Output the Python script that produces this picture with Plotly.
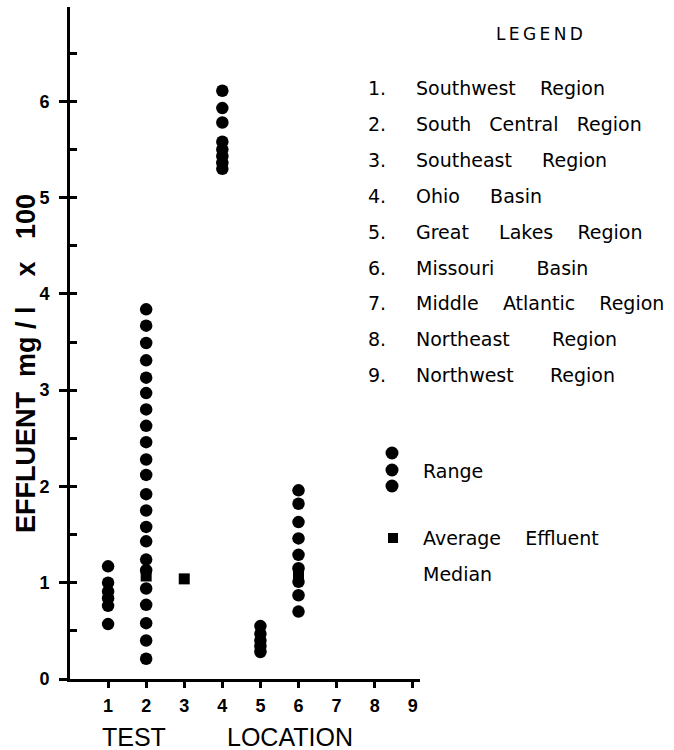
import plotly.graph_objects as go

# ---------------- data ----------------
x_ticks = [1, 2, 3, 4, 5, 6, 7, 8, 9]
y_ticks = [0, 1, 2, 3, 4, 5, 6]

loc1_range = [1.17, 1.00, 0.91, 0.84, 0.76, 0.57]
loc2_range = [3.84, 3.67, 3.49, 3.31, 3.13, 2.97, 2.80, 2.63, 2.46, 2.28, 2.12,
              1.92, 1.75, 1.58, 1.43, 1.24, 1.13, 0.94, 0.77, 0.58, 0.40, 0.21]
loc4_range = [6.11, 5.93, 5.78, 5.58, 5.50, 5.43, 5.36, 5.30]
loc5_range = [0.55, 0.47, 0.40, 0.34, 0.28]
loc6_range = [1.96, 1.82, 1.63, 1.46, 1.29, 1.15, 1.01, 0.87, 0.70]

median_locs = [2, 3, 6]
median_vals = [1.07, 1.04, 1.08]

legend_numbers = ["1.", "2.", "3.", "4.", "5.", "6.", "7.", "8.", "9."]
legend_names = ["Southwest Region", "South Central Region", "Southeast Region",
                "Ohio Basin", "Great Lakes Region", "Missouri Basin",
                "Middle Atlantic Region", "Northeast Region", "Northwest Region"]

# ---------------- layout helpers ----------------
W, H = 674, 750
L, R, T, B = 70, 420, 7, 679     # plot area in pixels


def px(xp):
    return (xp - L) / (R - L)


def py(yp):
    return (B - yp) / (B - T)


NB = "\u00a0"
word_gaps = [[4], [3, 3], [5], [5], [5, 4], [7], [4, 4], [7], [6]]


def spaced(name, gaps):
    words = name.split(" ")
    out = words[0]
    for w, g in zip(words[1:], gaps):
        out += NB * g + w
    return out


fig = go.Figure()

range_sets = [(1, loc1_range), (2, loc2_range), (4, loc4_range),
              (5, loc5_range), (6, loc6_range)]
for loc, vals in range_sets:
    fig.add_trace(go.Scatter(
        x=[loc] * len(vals), y=vals, mode="markers",
        marker=dict(symbol="circle", size=12.5, color="black"),
        showlegend=False, hoverinfo="skip"))

fig.add_trace(go.Scatter(
    x=median_locs, y=median_vals, mode="markers",
    marker=dict(symbol="square", size=11, color="black"),
    showlegend=False, hoverinfo="skip"))

# invisible trace on secondary y for inner ticks
fig.add_trace(go.Scatter(x=[None], y=[None], yaxis="y2", showlegend=False))

tick_font = dict(family="Liberation Sans", size=18, color="black", weight="bold")

fig.update_layout(
    width=W, height=H,
    margin=dict(l=L, r=W - R, t=T, b=H - B),
    paper_bgcolor="white", plot_bgcolor="white",
    showlegend=False,
    xaxis=dict(range=[0, 9.19], showgrid=False, zeroline=False,
               showline=True, linewidth=3, linecolor="black",
               tickvals=x_ticks, ticks="outside", ticklen=6, tickwidth=2.5,
               tickcolor="black", tickfont=tick_font, ticklabelstandoff=2),
    yaxis=dict(range=[0, 6.98], showgrid=False, zeroline=False,
               showline=True, linewidth=3, linecolor="black",
               tickvals=y_ticks, ticks="outside", ticklen=8, tickwidth=3,
               tickcolor="black", tickfont=tick_font, ticklabelstandoff=6),
    yaxis2=dict(range=[0, 6.98], overlaying="y", side="left",
                showgrid=False, zeroline=False, showline=False,
                tickvals=[v / 2 for v in range(0, 14)], ticks="inside",
                ticklen=7, tickwidth=2.5, tickcolor="black",
                showticklabels=False),
)

ann = []
# axis titles
ann.append(dict(text="EFFLUENT" + NB * 2 + "mg / l" + NB * 4 + "x" + NB * 3 + "100",
                x=px(26), y=py(364), xref="paper", yref="paper",
                textangle=-90, showarrow=False, xanchor="center", yanchor="middle",
                font=dict(family="Liberation Sans", size=27, color="black", weight="bold")))
ann.append(dict(text="TEST", x=px(134), y=py(737), xref="paper", yref="paper",
                showarrow=False, xanchor="center", yanchor="middle",
                font=dict(family="Liberation Sans", size=25, color="black")))
ann.append(dict(text="LOCATION", x=px(290), y=py(737), xref="paper", yref="paper",
                showarrow=False, xanchor="center", yanchor="middle",
                font=dict(family="Liberation Sans", size=25, color="black")))

# legend block
leg_font = dict(family="DejaVu Sans", size=19, color="black")
ann.append(dict(text="\u2009".join("LEGEND"), x=px(539), y=py(34),
                xref="paper", yref="paper", showarrow=False,
                xanchor="center", yanchor="middle",
                font=dict(family="DejaVu Sans", size=17, color="black")))
for i, (num, name) in enumerate(zip(legend_numbers, legend_names)):
    yp = 88 + 35.9 * i
    ann.append(dict(text=num, x=px(366), y=py(yp), xref="paper", yref="paper",
                    showarrow=False, xanchor="left", yanchor="middle", font=leg_font))
    ann.append(dict(text=spaced(name, word_gaps[i]), x=px(414), y=py(yp),
                    xref="paper", yref="paper", showarrow=False,
                    xanchor="left", yanchor="middle", font=leg_font))

ann.append(dict(text="Range", x=px(421), y=py(471), xref="paper", yref="paper",
                showarrow=False, xanchor="left", yanchor="middle", font=leg_font))
ann.append(dict(text="Average" + NB * 4 + "Effluent", x=px(421), y=py(538),
                xref="paper", yref="paper", showarrow=False,
                xanchor="left", yanchor="middle", font=leg_font))
ann.append(dict(text="Median", x=px(421), y=py(574), xref="paper", yref="paper",
                showarrow=False, xanchor="left", yanchor="middle", font=leg_font))
fig.update_layout(annotations=ann)

shapes = []
for yc in [453, 470, 486]:
    shapes.append(dict(type="circle", xref="paper", yref="paper",
                       xsizemode="pixel", ysizemode="pixel",
                       xanchor=px(392), yanchor=py(yc),
                       x0=-6.5, x1=6.5, y0=-6.5, y1=6.5,
                       fillcolor="black", line=dict(width=0)))
shapes.append(dict(type="rect", xref="paper", yref="paper",
                   xsizemode="pixel", ysizemode="pixel",
                   xanchor=px(393), yanchor=py(538),
                   x0=-5, x1=5, y0=-5, y1=5,
                   fillcolor="black", line=dict(width=0)))
fig.update_layout(shapes=shapes)

fig.write_html("out.html")
